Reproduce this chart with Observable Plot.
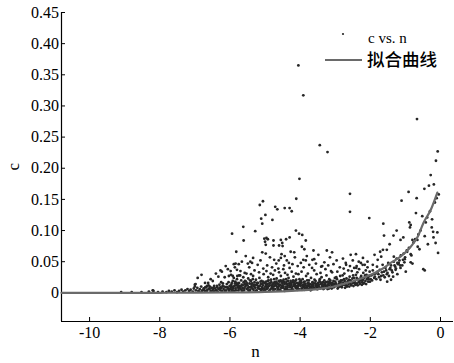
<!DOCTYPE html>
<html><head><meta charset="utf-8">
<script src="https://cdn.jsdelivr.net/npm/d3@7"></script>
<script src="https://cdn.jsdelivr.net/npm/@observablehq/plot@0.6"></script>
<style>
body{margin:0;background:#fff}
#chart{position:relative;width:454px;height:363px}
#chart svg text{font-family:"Liberation Serif","Times New Roman",serif !important}
#legend{position:absolute;left:0;top:0;pointer-events:none}
#legend text.cjk{font-family:"Noto Sans CJK SC",sans-serif !important}
</style></head><body><div id="chart"></div>
<script>
// Axis setup
const xDomain = [-10.8, 0.37];
const yDomain = [-0.046, 0.45];
const xTicks = [-10, -8, -6, -4, -2, 0];
const xTickLabels = ["-10", "-8", "-6", "-4", "-2", "0"];
const yTicks = [0, 0.05, 0.10, 0.15, 0.20, 0.25, 0.30, 0.35, 0.40, 0.45];
const yTickLabels = ["0", "0.05", "0.10", "0.15", "0.20", "0.25", "0.30", "0.35", "0.40", "0.45"];
const xLabel = "n";
const yLabel = "c";
const legendLabels = ["c vs. n", "拟合曲线"];

// Fitted curve c(n)
const fitN = [-10.8, -9, -8, -7, -6, -5, -4.5, -4, -3.5, -3, -2.84, -2.36, -1.99, -1.70, -1.42, -1.14, -0.85, -0.65, -0.48, -0.28, -0.09];
const fitC = [0, 0.00005, 0.0001, 0.0002, 0.0006, 0.0015, 0.0025, 0.004, 0.006, 0.0105, 0.013, 0.021, 0.029, 0.037, 0.048, 0.058, 0.074, 0.090, 0.113, 0.133, 0.161];

// Observations (n, c) far above the main band
const scatterOutliers = [
[-4.05,.365],[-3.91,.317],[-3.44,.237],[-3.22,.226],[-4.02,.183],[-4.11,.151],[-2.58,.159],[-2.58,.130],
[-5.06,.147],[-5.15,.141],[-4.71,.138],[-4.65,.134],[-4.44,.136],[-4.30,.136],[-4.24,.131],
[-4.99,.125],[-5.11,.119],[-5.08,.111],[-4.79,.117],[-5.62,.106],[-5.28,.099],[-4.12,.100],[-4.03,.095],[-3.94,.093],[-5.94,.095],
[-5.61,.084],[-5.02,.087],[-4.96,.088],[-4.92,.086],[-5.00,.082],[-4.76,.084],[-4.55,.085],[-4.51,.080],[-4.40,.086],[-4.30,.089],[-3.84,.084],[-3.88,.070],[-3.95,.074],
[-4.98,.077],[-4.76,.076],[-4.60,.076],[-4.50,.075],[-4.27,.066],[-4.17,.065],[-3.62,.068],[-3.24,.068],[-3.09,.065],
[-5.55,.059],[-5.08,.065],[-4.98,.063],[-4.74,.053],[-4.61,.052],[-4.55,.056],[-4.44,.059],[-4.32,.048],[-3.91,.053],[-3.84,.052],[-3.65,.053],[-3.60,.054],[-3.37,.043],[-5.34,.056],[-5.42,.050],[-5.49,.047],[-2.69,.045],
[-5.82,.066],[-6.27,.036],[-6.23,.034],[-6.12,.043],[-5.89,.046],[-6.03,.027],[-5.97,.029],[-7.00,.013],[-6.71,.016],[-6.49,.019],[-6.25,.017],
[-5.37,.048],[-5.84,.047],[-5.75,.046],[-5.80,.037],[-5.92,.027],[-5.79,.027],[-5.74,.028],[-6.62,.016],[-6.98,.014],[-7.00,.010],[-6.70,.009],[-6.65,.011],[-6.37,.011],[-6.27,.009],[-8.20,.004],
[-0.67,.279],[-0.08,.227],[-0.13,.212],[-0.28,.189],[-0.19,.174],[-0.33,.172],[-0.46,.167],[-0.91,.162],[-1.11,.148],[-0.68,.152],
[-2.03,.120],[-0.70,.128],[-0.52,.123],[-0.24,.118],[-1.63,.111],[-0.89,.113],[-0.85,.109],[-0.87,.105],[-1.25,.100],[-1.34,.092],[-1.61,.092],
[-0.21,.098],[-0.09,.097],[-0.20,.089],[-0.45,.091],[-0.36,.078],[-0.80,.085],[-0.66,.085],[-0.65,.074],[-1.14,.085],[-1.06,.089],
[-1.45,.078],[-1.53,.069],[-1.64,.069],[-1.72,.066],[-0.95,.066],[-0.85,.062],[-1.02,.054],[-0.85,.049],[-0.80,.047],[-0.49,.038],[-0.45,.036],[-0.99,.034],[-1.41,.021],[-1.52,.018],
[-2.56,.061],[-2.41,.062],[-2.21,.056],[-2.08,.050],[-1.88,.061],[-1.79,.053],[-1.69,.058],[-1.93,.045],[-2.16,.045],[-2.27,.048],[-2.39,.043],
[-1.33,.058],[-1.23,.048],[-1.14,.040],[-1.28,.037]
];

// Observations (n, c) scattered just above the band
const scatterMid = [
[-6.92,.024],[-6.81,.029],[-6.55,.022],[-6.40,.031],[-6.33,.026],[-6.15,.025],[-6.06,.038],[-5.98,.035],[-5.86,.041],[-5.70,.035],[-5.66,.050],[-5.58,.032],[-5.45,.041],[-5.40,.030],[-5.30,.036],[-5.21,.045],[-5.13,.052],[-5.05,.039],[-4.94,.044],[-4.86,.057],[-4.80,.041],[-4.68,.047],[-4.62,.039],[-4.53,.062],[-4.46,.044],[-4.38,.052],[-4.30,.040],[-4.22,.046],[-4.15,.057],[-4.07,.043],[-3.98,.048],[-3.90,.041],[-3.81,.059],[-3.74,.045],[-3.66,.040],[-3.55,.047],[-3.48,.061],[-3.40,.042],[-3.31,.049],[-3.20,.044],[-3.15,.057],[-3.05,.046],[-2.96,.052],[-2.87,.041],[-2.78,.055],[-2.70,.048],[-2.63,.036],[-2.50,.052],[-2.46,.040],[-2.33,.050]
];

// Observations (n, c) in the dense band near the curve
const scatterBand = [
[-9.10,.001],[-8.80,.001],[-8.52,.001],[-8.31,.002],[-8.18,.003],[-8.05,.001],[-7.92,.002],[-7.81,.001],[-7.74,.003],[-7.66,.002],[-7.58,.004],[-7.51,.001],[-7.45,.003],[-7.38,.005],[-7.33,.002],[-7.27,.004],[-7.21,.006],[-7.16,.003],[-7.12,.005],[-7.06,.002],[-7.03,.007],
[-6.97,.004],[-6.93,.008],[-6.90,.003],[-6.86,.006],[-6.82,.010],[-6.79,.004],[-6.75,.007],[-6.71,.003],[-6.68,.009],[-6.64,.005],[-6.61,.012],[-6.58,.006],[-6.55,.003],[-6.52,.008],[-6.49,.005],[-6.45,.011],[-6.42,.007],[-6.39,.004],[-6.36,.009],[-6.33,.006],[-6.30,.013],[-6.27,.004],[-6.24,.008],[-6.21,.011],[-6.18,.006],[-6.15,.003],[-6.12,.009],[-6.09,.014],[-6.06,.007],[-6.03,.005],[-6.01,.011],[-6.88,.002],[-6.57,.010],[-6.46,.002],[-6.20,.015],[-6.11,.004],[-6.04,.017],
[-6.80,.002],[-6.74,.005],[-6.66,.003],[-6.59,.007],[-6.53,.002],[-6.47,.008],[-6.41,.004],[-6.35,.002],[-6.29,.007],[-6.23,.003],[-6.17,.010],[-6.13,.002],[-6.07,.009],[-6.02,.003],
[-5.98,.008],[-5.96,.013],[-5.94,.005],[-5.92,.019],[-5.90,.010],[-5.88,.003],[-5.86,.015],[-5.84,.007],[-5.82,.012],[-5.80,.022],[-5.78,.009],[-5.76,.004],[-5.74,.016],[-5.72,.011],[-5.70,.006],[-5.68,.020],[-5.66,.013],[-5.64,.008],[-5.62,.025],[-5.60,.004],[-5.58,.014],[-5.56,.010],[-5.54,.018],[-5.52,.006],[-5.50,.012],[-5.48,.023],[-5.46,.009],[-5.44,.015],[-5.42,.005],[-5.40,.019],[-5.38,.011],[-5.36,.007],[-5.34,.027],[-5.32,.013],[-5.30,.017],[-5.28,.008],[-5.26,.021],[-5.24,.004],[-5.22,.012],[-5.20,.016],[-5.18,.010],[-5.16,.024],[-5.14,.006],[-5.12,.014],[-5.10,.019],[-5.08,.009],[-5.06,.012],[-5.04,.030],[-5.02,.007],[-5.01,.016],
[-5.97,.011],[-5.91,.007],[-5.85,.018],[-5.79,.014],[-5.73,.009],[-5.67,.005],[-5.61,.017],[-5.55,.013],[-5.49,.008],[-5.43,.020],[-5.37,.015],[-5.31,.010],[-5.25,.013],[-5.19,.007],[-5.13,.018],[-5.07,.015],[-5.89,.024],[-5.71,.028],[-5.53,.031],[-5.35,.022],[-5.17,.033],[-5.95,.002],[-5.65,.003],[-5.45,.002],[-5.27,.003],[-5.11,.004],
[-5.99,.006],[-5.95,.016],[-5.93,.009],[-5.87,.011],[-5.83,.004],[-5.81,.016],[-5.77,.012],[-5.75,.007],[-5.69,.010],[-5.63,.012],[-5.59,.007],[-5.57,.019],[-5.51,.015],[-5.47,.004],[-5.41,.009],[-5.39,.014],[-5.33,.005],[-5.29,.012],[-5.23,.016],[-5.21,.008],[-5.15,.011],[-5.09,.006],[-5.05,.018],[-5.03,.004],
[-4.99,.010],[-4.97,.018],[-4.95,.006],[-4.93,.014],[-4.91,.025],[-4.89,.011],[-4.87,.004],[-4.85,.016],[-4.83,.021],[-4.81,.008],[-4.79,.013],[-4.77,.029],[-4.75,.010],[-4.73,.017],[-4.71,.006],[-4.69,.012],[-4.67,.023],[-4.65,.015],[-4.63,.009],[-4.61,.019],[-4.59,.005],[-4.57,.013],[-4.55,.027],[-4.53,.011],[-4.51,.016],[-4.49,.008],[-4.47,.021],[-4.45,.014],[-4.43,.032],[-4.41,.010],[-4.39,.018],[-4.37,.006],[-4.35,.012],[-4.33,.024],[-4.31,.015],[-4.29,.009],[-4.27,.019],[-4.25,.013],[-4.23,.005],[-4.21,.017],[-4.19,.026],[-4.17,.011],[-4.15,.014],[-4.13,.008],[-4.11,.021],[-4.09,.016],[-4.07,.010],[-4.05,.030],[-4.03,.013],[-4.01,.018],
[-4.98,.014],[-4.94,.009],[-4.90,.020],[-4.86,.012],[-4.82,.017],[-4.78,.007],[-4.74,.022],[-4.70,.015],[-4.66,.010],[-4.62,.014],[-4.58,.018],[-4.54,.008],[-4.50,.012],[-4.46,.017],[-4.42,.007],[-4.38,.014],[-4.34,.019],[-4.30,.011],[-4.26,.016],[-4.22,.010],[-4.18,.013],[-4.14,.019],[-4.10,.007],[-4.06,.012],[-4.02,.022],
[-4.96,.035],[-4.84,.031],[-4.72,.036],[-4.60,.033],[-4.48,.038],[-4.36,.029],[-4.24,.034],[-4.12,.031],[-4.88,.003],[-4.64,.004],[-4.44,.003],[-4.28,.004],[-4.08,.005],
[-4.92,.019],[-4.76,.015],[-4.56,.020],[-4.40,.022],[-4.20,.020],[-4.04,.015],
[-4.995,.005],[-4.96,.012],[-4.92,.008],[-4.88,.015],[-4.84,.006],[-4.80,.011],[-4.76,.004],[-4.72,.012],[-4.68,.018],[-4.64,.007],[-4.60,.011],[-4.56,.004],[-4.52,.019],[-4.48,.010],[-4.44,.006],[-4.40,.015],[-4.36,.009],[-4.32,.004],[-4.28,.013],[-4.24,.008],[-4.20,.005],[-4.16,.016],[-4.12,.011],[-4.08,.009],[-4.04,.006],[-4.00,.014],
[-3.99,.011],[-3.97,.016],[-3.95,.007],[-3.93,.022],[-3.91,.013],[-3.89,.009],[-3.87,.018],[-3.85,.012],[-3.83,.027],[-3.81,.008],[-3.79,.015],[-3.77,.011],[-3.75,.020],[-3.73,.006],[-3.71,.014],[-3.69,.024],[-3.67,.010],[-3.65,.017],[-3.63,.013],[-3.61,.008],[-3.59,.021],[-3.57,.015],[-3.55,.011],[-3.53,.030],[-3.51,.009],[-3.49,.016],[-3.47,.013],[-3.45,.019],[-3.43,.007],[-3.41,.014],[-3.39,.025],[-3.37,.011],[-3.35,.017],[-3.33,.009],[-3.31,.020],[-3.29,.014],[-3.27,.012],[-3.25,.028],[-3.23,.010],[-3.21,.018],[-3.19,.015],[-3.17,.022],[-3.15,.008],[-3.13,.016],[-3.11,.013],[-3.09,.033],[-3.07,.011],[-3.05,.019],[-3.03,.014],[-3.01,.024],
[-3.98,.019],[-3.92,.010],[-3.86,.014],[-3.80,.020],[-3.74,.013],[-3.68,.009],[-3.62,.016],[-3.56,.019],[-3.50,.012],[-3.44,.022],[-3.38,.015],[-3.32,.012],[-3.26,.017],[-3.20,.013],[-3.14,.020],[-3.08,.016],[-3.02,.010],
[-3.96,.034],[-3.78,.031],[-3.60,.036],[-3.42,.032],[-3.28,.038],[-3.12,.035],[-3.88,.005],[-3.70,.004],[-3.52,.006],[-3.34,.006],[-3.18,.007],
[-3.96,.006],[-3.94,.012],[-3.90,.017],[-3.86,.008],[-3.82,.011],[-3.78,.006],[-3.76,.016],[-3.72,.009],[-3.68,.013],[-3.66,.006],[-3.62,.011],[-3.58,.007],[-3.54,.014],[-3.50,.006],[-3.46,.010],[-3.42,.017],[-3.40,.008],[-3.36,.013],[-3.32,.007],[-3.30,.016],[-3.26,.010],[-3.22,.006],[-3.18,.012],[-3.16,.017],[-3.12,.009],[-3.10,.007],[-3.06,.014],[-3.04,.009],[-3.00,.018],
[-2.98,.015],[-2.95,.022],[-2.92,.011],[-2.89,.018],[-2.86,.027],[-2.83,.013],[-2.80,.020],[-2.77,.016],[-2.74,.031],[-2.71,.012],[-2.68,.023],[-2.65,.018],[-2.62,.014],[-2.59,.026],[-2.56,.020],[-2.53,.035],[-2.50,.016],[-2.47,.024],[-2.44,.019],[-2.41,.029],[-2.38,.015],[-2.35,.022],[-2.32,.038],[-2.29,.020],[-2.26,.027],[-2.23,.017],[-2.20,.032],[-2.17,.024],[-2.14,.019],[-2.11,.029],[-2.08,.041],[-2.05,.022],[-2.02,.034],
[-2.97,.025],[-2.91,.009],[-2.85,.017],[-2.79,.028],[-2.73,.019],[-2.67,.010],[-2.61,.021],[-2.55,.013],[-2.49,.028],[-2.43,.014],[-2.37,.033],[-2.31,.017],[-2.25,.021],[-2.19,.015],[-2.13,.036],[-2.07,.025],[-2.01,.018],
[-2.94,.034],[-2.76,.039],[-2.58,.043],[-2.40,.040],[-2.22,.045],
[-2.96,.012],[-2.93,.007],[-2.90,.014],[-2.87,.010],[-2.84,.020],[-2.81,.009],[-2.78,.013],[-2.75,.022],[-2.72,.008],[-2.69,.015],[-2.66,.011],[-2.63,.019],[-2.60,.010],[-2.57,.016],[-2.54,.012],[-2.51,.023],[-2.48,.011],[-2.45,.017],[-2.42,.013],[-2.39,.024],[-2.36,.012],[-2.33,.018],[-2.30,.014],[-2.27,.025],[-2.24,.013],[-2.21,.021],[-2.18,.016],[-2.15,.028],[-2.12,.014],[-2.09,.022],[-2.06,.018],[-2.03,.027],
[-1.97,.028],[-1.93,.036],[-1.89,.024],[-1.85,.031],[-1.81,.042],[-1.77,.030],[-1.73,.037],[-1.69,.027],[-1.65,.045],[-1.61,.034],[-1.57,.040],[-1.53,.030],[-1.49,.048],[-1.45,.038],[-1.41,.044],[-1.37,.033],[-1.33,.050],[-1.29,.042],[-1.25,.055],[-1.21,.046],[-1.17,.052],[-1.13,.060],[-1.09,.044],[-1.05,.063],[-1.01,.057],
[-1.95,.020],[-1.83,.022],[-1.71,.021],[-1.59,.025],[-1.47,.027],[-1.35,.026],[-1.23,.030],
[-1.99,.022],[-1.91,.030],[-1.87,.026],[-1.79,.034],[-1.75,.025],[-1.67,.033],[-1.63,.028],[-1.55,.036],[-1.51,.032],[-1.43,.040],[-1.39,.036],[-1.31,.044],[-1.27,.039],[-1.19,.048],[-1.15,.044],[-1.07,.053],[-1.03,.049],
[-0.96,.068],[-0.90,.072],[-0.83,.060],[-0.77,.081],[-0.72,.086],[-0.63,.094],[-0.57,.100],[-0.42,.113],[-0.38,.121],[-0.30,.131],[-0.16,.145],[-0.11,.152],[-0.05,.158],[-0.60,.070],[-0.25,.105],[-0.14,.080],[-0.07,.064]
];

const points = scatterBand.concat(scatterMid, scatterOutliers).map(([n, c]) => ({n, c}));
const fit = fitN.map((n, i) => ({n, c: fitC[i]}));

const serif = "Liberation Serif";
const dotColor = "#262626";
const curveColor = "#6a6a6a";

const chart = Plot.plot({
  width: 454,
  height: 363,
  marginLeft: 61,
  marginRight: 1,
  marginTop: 12,
  marginBottom: 42,
  style: {fontFamily: serif, fontSize: "16px", color: "#000", background: "#fff"},
  x: {domain: xDomain},
  y: {domain: yDomain},
  marks: [
    Plot.axisX({ticks: xTicks, tickFormat: (d) => xTickLabels[xTicks.indexOf(d)], tickSize: -4, tickPadding: 9.5, label: null, fontSize: 16}),
    Plot.axisY({ticks: yTicks, tickFormat: (d) => yTickLabels[yTicks.indexOf(d)], tickSize: -4, tickPadding: 6.5, label: null, fontSize: 16}),
    Plot.ruleX([xDomain[0]], {stroke: "#000", strokeWidth: 1.2}),
    Plot.ruleY([yDomain[0]], {stroke: "#000", strokeWidth: 1.2}),
    Plot.dot(points, {x: "n", y: "c", r: 1.4, fill: dotColor, stroke: null}),
    Plot.line(fit, {x: "n", y: "c", curve: "monotone-x", stroke: curveColor, strokeWidth: 2.2}),
    Plot.text([xLabel], {frameAnchor: "bottom", dx: -2, dy: 35, fontSize: 17, fill: "#000"}),
    Plot.text([yLabel], {frameAnchor: "left", dx: -48, dy: 3.5, rotate: -90, fontSize: 17, fill: "#000"})
  ]
});
document.getElementById("chart").appendChild(chart);

// Legend in the upper right of the plot area
const legend = d3.select("#chart").append("svg")
  .attr("id", "legend").attr("width", 454).attr("height", 363);
legend.append("circle").attr("cx", 343).attr("cy", 34).attr("r", 1.1).attr("fill", dotColor);
legend.append("text").attr("x", 368).attr("y", 43)
  .attr("font-size", 15).attr("fill", "#000").text(legendLabels[0]);
legend.append("line").attr("x1", 325).attr("x2", 362).attr("y1", 60).attr("y2", 60)
  .attr("stroke", curveColor).attr("stroke-width", 2.2);
legend.append("text").attr("class", "cjk").attr("x", 367).attr("y", 65.5)
  .attr("font-size", 17.5).attr("font-weight", 500)
  .attr("fill", "#000").text(legendLabels[1]);
</script>
</body></html>
